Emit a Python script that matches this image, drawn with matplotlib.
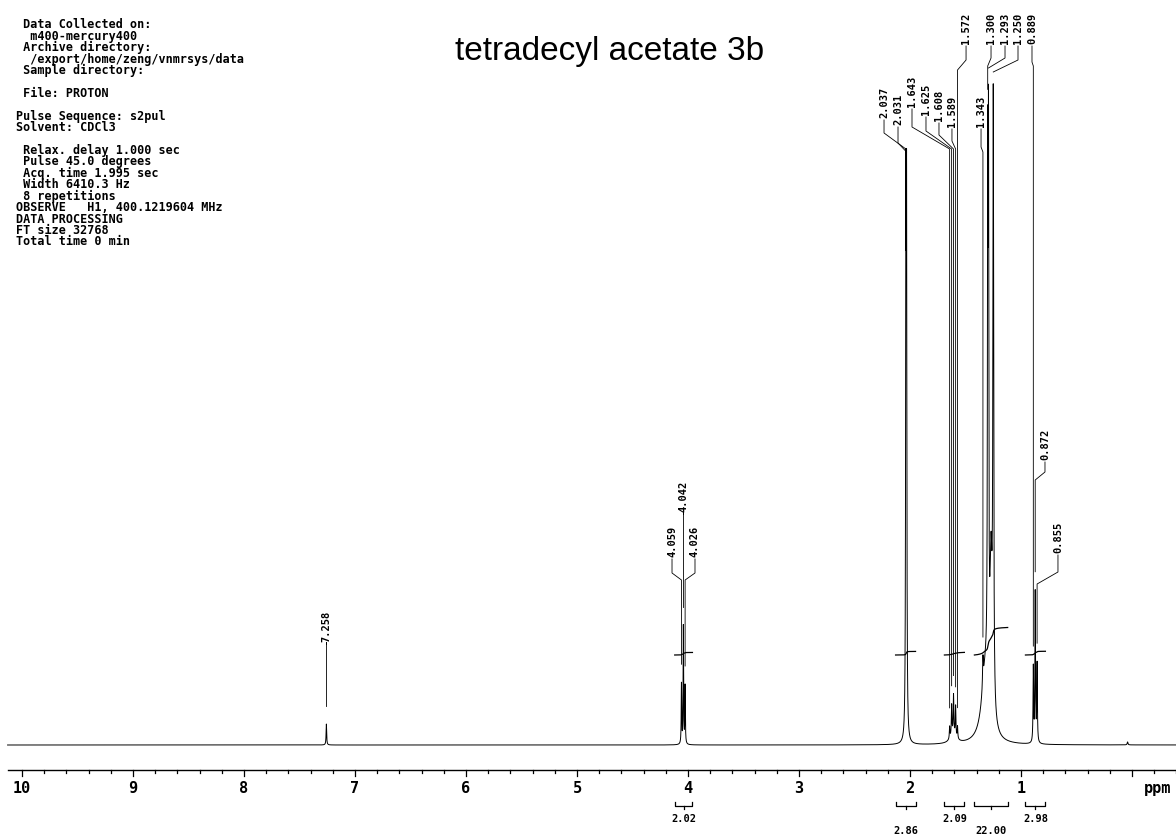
import numpy as np
import matplotlib.pyplot as plt

# peaks: position (ppm), height (px above baseline), half width (ppm)
peak_ppm = [7.258, 4.059, 4.042, 4.026, 2.037, 2.031,
            1.643, 1.625, 1.608, 1.589, 1.572, 1.610,
            1.343, 1.300, 1.293, 1.270, 1.250, 1.320,
            0.889, 0.872, 0.855, 0.040]
peak_height = [21, 60, 118, 58, 494, 494,
               12, 30, 38, 30, 12, 10,
               28, 480, 500, 150, 600, 70,
               75, 150, 78, 3]
peak_hw = [0.003, 0.0025, 0.0025, 0.0025, 0.003, 0.003,
           0.003, 0.003, 0.003, 0.003, 0.003, 0.03,
           0.004, 0.003, 0.003, 0.012, 0.004, 0.04,
           0.003, 0.003, 0.003, 0.004]

# labelled peaks
label_ppm = [7.258, 4.059, 4.042, 4.026, 2.037, 2.031, 1.643, 1.625, 1.608,
             1.589, 1.572, 1.343, 1.300, 1.293, 1.250, 0.889, 0.872, 0.855]

# integrals: region (ppm from, ppm to), value, label row
int_from = [4.12, 2.13, 1.69, 1.42, 0.96]
int_to = [3.96, 1.95, 1.51, 1.12, 0.78]
int_value = ['2.02', '2.86', '2.09', '22.00', '2.98']
int_row = [0, 1, 0, 1, 0]

tick_major = list(range(10, 0, -1))

header = [
    " Data Collected on:",
    "  m400-mercury400",
    " Archive directory:",
    "  /export/home/zeng/vnmrsys/data",
    " Sample directory:",
    "",
    " File: PROTON",
    "",
    "Pulse Sequence: s2pul",
    "Solvent: CDCl3",
    "",
    " Relax. delay 1.000 sec",
    " Pulse 45.0 degrees",
    " Acq. time 1.995 sec",
    " Width 6410.3 Hz",
    " 8 repetitions",
    "OBSERVE   H1, 400.1219604 MHz",
    "DATA PROCESSING",
    "FT size 32768",
    "Total time 0 min",
]

# label layout (pixels from top): text x (ppm), text bottom, bend, join
lab_x = [7.258, 4.144, 4.042, 3.937, 2.234, 2.108, 1.982, 1.856, 1.739,
         1.622, 1.495, 1.360, 1.270, 1.144, 1.027, 0.901, 0.784, 0.667]
lab_bottom = [642, 557, 512, 557, 118, 125, 107, 115, 121,
              127, 44, 127, 44, 44, 44, 44, 460, 553]
lab_bend = [642, 573, 512, 573, 133, 143, 127, 131, 135,
            141, 60, 147, 58, 58, 60, 62, 472, 572]
lab_join = [642, 580, 512, 580, 149, 152, 149, 149, 149,
            149, 70, 152, 66, 68, 72, 66, 480, 584]

W, H = 1176, 838
BASE = 745  # baseline, px from top
mono = 'DejaVu Sans Mono'

fig = plt.figure(figsize=(W / 100, H / 100), dpi=100)
fig.patch.set_facecolor('white')
ax = fig.add_axes([0, 0, 1, 1])
ax.axis('off')
ax.set_xlim(10 + 22 / 111, -44 / 111)
ax.set_ylim(BASE - H, BASE)


def py(p):
    # pixel row -> data y
    return BASE - p


# spectrum
x = np.linspace(10.13, -0.40, 40000)
spec = np.zeros_like(x)
for p, h, w in zip(peak_ppm, peak_height, peak_hw):
    spec += h / (1 + ((x - p) / w) ** 2)
ax.plot(x, spec, color='black', lw=0.7)


def spec_at(p):
    return np.interp(p, x[::-1], spec[::-1])


# peak labels + leader lines
for lp, tx, b, bd, jn in zip(label_ppm, lab_x, lab_bottom, lab_bend, lab_join):
    ax.text(tx, py(b), f"{lp:.3f}", rotation=90, ha='center', va='bottom',
            family=mono, weight='bold', fontsize=7.5)
    top = spec_at(lp) + 18
    yend = min(top, py(jn))
    ax.plot([tx, tx, lp, lp], [py(b) - 2, py(bd), py(jn), yend],
            color='black', lw=0.6)

# integral traces and brackets
for a, b, val, row in zip(int_from, int_to, int_value, int_row):
    m = (x <= a) & (x >= b)
    cum = np.cumsum(spec[m])
    cum = cum / cum[-1]
    ax.plot(x[m], py(655) + cum * float(val) * 1.25, color='black', lw=0.9)
    yb = py(806)
    ax.plot([a, a, b, b], [yb + 4, yb, yb, yb + 4], color='black', lw=0.9)
    mid = (a + b) / 2
    ax.plot([mid, mid], [yb, yb - 3], color='black', lw=0.9)
    ax.text(mid, py(819 + 12 * row), val, ha='center', va='center',
            family=mono, weight='bold', fontsize=7.5)

# ppm axis
ya = py(770)
ax.plot([10.13, -0.40], [ya, ya], color='black', lw=1.0)
for t in np.arange(-0.4, 10.13, 0.2):
    t = round(t, 1)
    ln = 6 if abs(t - round(t)) < 1e-6 else 3
    ax.plot([t, t], [ya, ya - ln], color='black', lw=0.9)
for t in tick_major:
    ax.text(t, py(788), str(t), ha='center', va='center',
            family=mono, weight='bold', fontsize=11)
ax.text(-0.23, py(788), 'ppm', ha='center', va='center',
        family=mono, weight='bold', fontsize=11)

# acquisition header, one block
fig.text(16 / W, 1 - 18.5 / H, "\n".join(header), ha='left', va='top',
         family=mono, weight='bold', fontsize=8.5, linespacing=0.84)

fig.text(610 / W, 1 - 60 / H, 'tetradecyl acetate 3b', ha='center',
         va='baseline', family='Liberation Sans', fontsize=24)

fig.savefig('out.png', dpi=100, facecolor='white')
